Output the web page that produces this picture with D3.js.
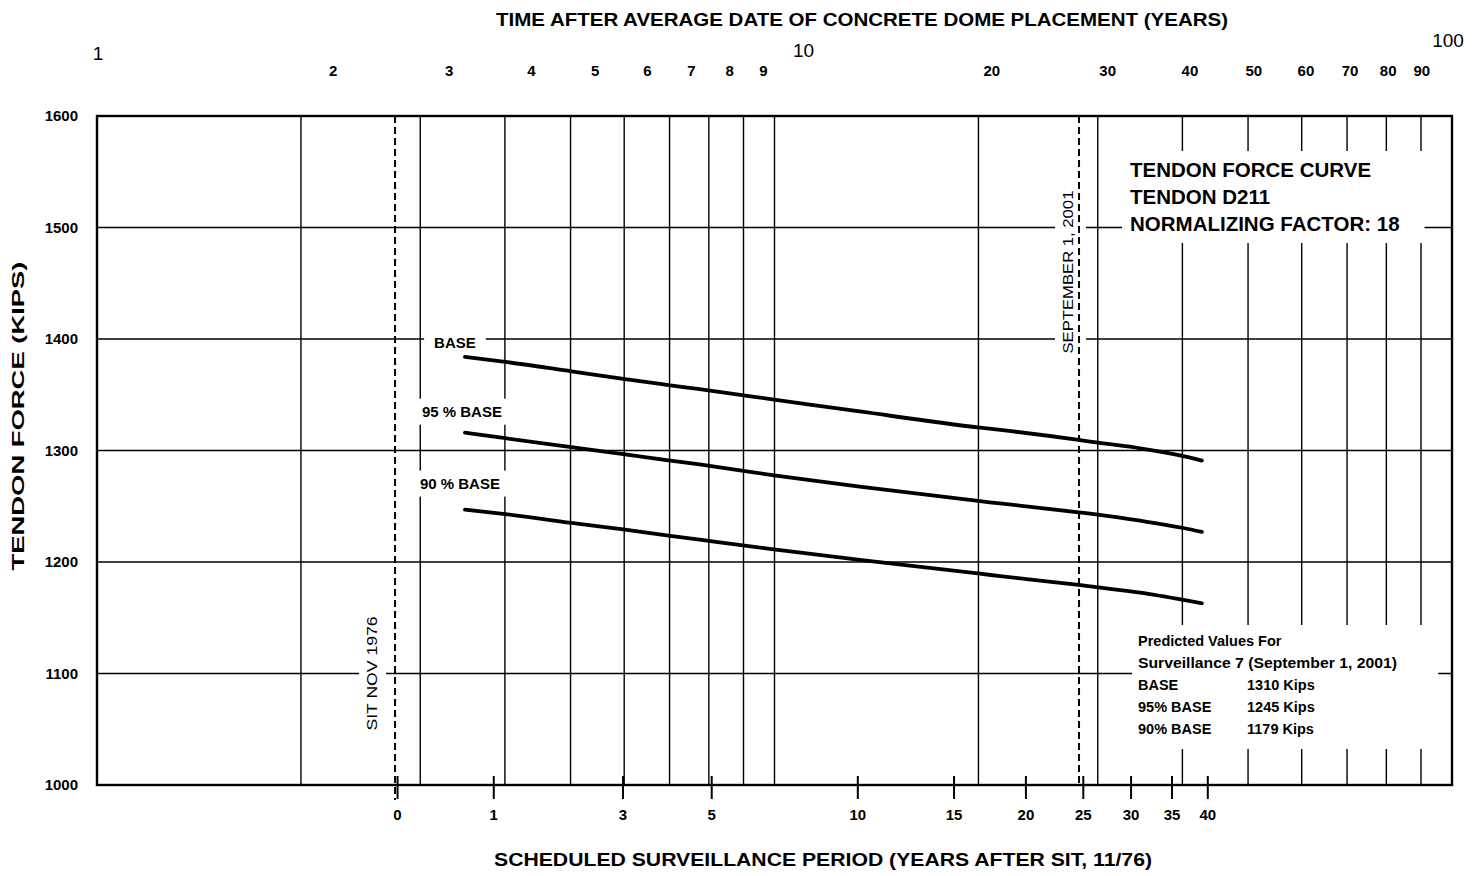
<!DOCTYPE html>
<html>
<head>
<meta charset="utf-8">
<script src="https://cdn.jsdelivr.net/npm/d3@7"></script>
<style>
  body { margin: 0; background: #fff; }
  svg { display: block; font-family: "Liberation Sans", Arial, sans-serif; }
</style>
</head>
<body>
<script>
// years after SIT (11/76) and tendon force readings (kips)
const years = [0.67, 1.15, 2.1, 3.05, 4.0, 4.7, 6.9, 10.1, 16.7, 18.1, 24.6, 26.5, 31.1, 36.6, 39.2];
const baseForce = [1384, 1379.5, 1371, 1364, 1358.5, 1355, 1345.5, 1335, 1320.5, 1318.5, 1309.5, 1307, 1302, 1295, 1291];
const base95Force = [1316, 1311, 1303, 1296.5, 1291, 1287.5, 1277.5, 1267.5, 1254.5, 1252.5, 1244.6, 1242.5, 1237, 1230.5, 1227];
const base90Force = [1247, 1243, 1235, 1229, 1223.5, 1220, 1211, 1202, 1189.5, 1187.3, 1179.4, 1177.3, 1172.5, 1166, 1163];
const seriesNames = ["BASE", "95 % BASE", "90 % BASE"];

const sitOffset = 2.5;          // dome placement -> SIT, years
const sept2001 = 24.83;         // years after SIT
const majorYears = [1, 10, 100];
const minorYears = [2, 3, 4, 5, 6, 7, 8, 9, 20, 30, 40, 50, 60, 70, 80, 90];
const gridYears = [2, 3, 4, 5, 6, 7, 8, 9, 10, 20, 30, 40, 50, 60, 70, 80, 90];
const surveillanceTicks = [0, 1, 3, 5, 10, 15, 20, 25, 30, 35, 40];
const forceTicks = [1000, 1100, 1200, 1300, 1400, 1500, 1600];
const predictedRows = [["BASE", "1310 Kips"], ["95% BASE", "1245 Kips"], ["90% BASE", "1179 Kips"]];

const W = 1476, H = 876;
const pL = 97, pR = 1452, pT = 116, pB = 785;

const svg = d3.select("body").append("svg").attr("width", W).attr("height", H);
svg.append("rect").attr("width", W).attr("height", H).attr("fill", "#fff");

// grid drawn as printed, data/labels on a slightly shifted log scale
const xGrid = d3.scaleLog().domain([1, 100]).range([pL, pR]);
const xTime = d3.scaleLog().domain([1, 100]).range([135, pR]);
const y = d3.scaleLinear().domain([1000, 1600]).range([pB, pT]);
const xs = s => xTime(s + sitOffset);

const gGrid = svg.append("g");
const gMask = svg.append("g");
const gDash = svg.append("g");
const gCurves = svg.append("g");
const gText = svg.append("g");

gGrid.selectAll(".vg").data(gridYears).join("line")
  .attr("x1", d => xGrid(d)).attr("x2", d => xGrid(d))
  .attr("y1", pT).attr("y2", pB)
  .attr("stroke", "#000").attr("stroke-width", 1.4);

gGrid.selectAll(".hg").data(forceTicks.slice(1, -1)).join("line")
  .attr("x1", pL).attr("x2", pR)
  .attr("y1", d => y(d)).attr("y2", d => y(d))
  .attr("stroke", "#000").attr("stroke-width", 1.4);

// label with a white box behind it
function boxed(transform, pad, build) {
  const g = gText.append("g").attr("transform", transform);
  build(g);
  const b = g.node().getBBox();
  gMask.append("g").attr("transform", transform).append("rect")
    .attr("x", b.x - pad[0]).attr("y", b.y - pad[1])
    .attr("width", b.width + pad[0] + pad[2]).attr("height", b.height + pad[1] + pad[3])
    .attr("fill", "#fff");
  return g;
}

// dashed event lines
gDash.selectAll("line").data([0, sept2001]).join("line")
  .attr("x1", d => xs(d) - 2).attr("x2", d => xs(d) - 2)
  .attr("y1", pT).attr("y2", d => d === 0 ? 800 : pB)
  .attr("stroke", "#000").attr("stroke-width", 2).attr("stroke-dasharray", "7,4");

// curves
const line = d3.line().x(d => xs(d[0])).y(d => y(d[1])).curve(d3.curveMonotoneX);
const seriesVals = [baseForce, base95Force, base90Force];
gCurves.selectAll("path").data(seriesVals).join("path")
  .attr("d", v => line(years.map((s, i) => [s, v[i]])))
  .attr("fill", "none").attr("stroke", "#000").attr("stroke-width", 3.8)
  .attr("stroke-linecap", "round");

// curve labels
const labelLift = [9, 16, 21];
const labelShift = [-10, -3, -5];
seriesNames.forEach((name, i) => {
  boxed(`translate(${xs(years[0]) + labelShift[i]},${y(seriesVals[i][0]) - labelLift[i]})`, [10, 4, 10, 5], g => {
    g.append("text").attr("text-anchor", "middle")
      .attr("font-size", 15).attr("font-weight", "bold").text(name);
  });
});

// rotated event labels
boxed(`translate(${xs(0) - 20},${y(1100)}) rotate(-90)`, [2, 4, 2, 6], g => {
  g.append("text").attr("text-anchor", "middle").attr("font-size", 15)
    .attr("textLength", 114).attr("lengthAdjust", "spacingAndGlyphs").text("SIT NOV 1976");
});
boxed(`translate(${xs(sept2001) - 8},${y(1460)}) rotate(-90)`, [4, 4, 4, 10], g => {
  g.append("text").attr("text-anchor", "middle").attr("font-size", 15)
    .attr("textLength", 163).attr("lengthAdjust", "spacingAndGlyphs").text("SEPTEMBER 1, 2001");
});

// title box
boxed(`translate(1130,177)`, [8, 7, 25, 8], g => {
  ["TENDON FORCE CURVE", "TENDON D211", "NORMALIZING FACTOR: 18"].forEach((t, i) => {
    g.append("text").attr("y", i * 27).attr("font-size", 20.5).attr("font-weight", "bold").text(t);
  });
});

// predicted values box
boxed(`translate(1138,646)`, [6, 8, 41, 12], g => {
  g.append("text").attr("font-size", 14.5).attr("font-weight", "bold").text("Predicted Values For");
  g.append("text").attr("y", 22).attr("font-size", 14.5).attr("font-weight", "bold")
    .attr("textLength", 259).attr("lengthAdjust", "spacingAndGlyphs")
    .text("Surveillance 7 (September 1, 2001)");
  predictedRows.forEach((r, i) => {
    g.append("text").attr("y", 44 + i * 22).attr("font-size", 14.5).attr("font-weight", "bold").text(r[0]);
    g.append("text").attr("x", 109).attr("y", 44 + i * 22).attr("font-size", 14.5).attr("font-weight", "bold").text(r[1]);
  });
});

// y axis
const yAxis = svg.append("g").attr("transform", `translate(${pL},0)`)
  .call(d3.axisLeft(y).tickValues(forceTicks).tickFormat(d3.format("d")).tickSize(0).tickPadding(19));
yAxis.select(".domain").remove();
yAxis.selectAll("text").attr("font-size", 15).attr("font-weight", "bold")
  .attr("font-family", "Liberation Sans, Arial, sans-serif").attr("fill", "#000");

// bottom axis (years after SIT)
const xAxis = svg.append("g").attr("transform", `translate(0,${pB})`)
  .call(d3.axisBottom(xTime).tickValues(surveillanceTicks.map(s => s + sitOffset))
    .tickFormat(d => Math.round(d - sitOffset)).tickSize(14).tickPadding(10));
xAxis.select(".domain").remove();
xAxis.selectAll(".tick line").attr("y1", -9).attr("stroke", "#000").attr("stroke-width", 2);
xAxis.selectAll("text").attr("font-size", 15).attr("font-weight", "bold")
  .attr("font-family", "Liberation Sans, Arial, sans-serif").attr("fill", "#000");

// top labels
const majorNudge = { 1: -37, 10: 10, 100: -4 };
const majorBase = { 1: 60, 10: 57, 100: 47 };
svg.selectAll(".major").data(majorYears).join("text")
  .attr("x", d => xTime(d) + majorNudge[d]).attr("y", d => majorBase[d])
  .attr("text-anchor", "middle").attr("font-size", 19).text(d => d);
svg.selectAll(".minor").data(minorYears).join("text")
  .attr("x", d => xTime(d)).attr("y", 76)
  .attr("text-anchor", "middle").attr("font-size", 15).attr("font-weight", "bold").text(d => d);

// axis titles
svg.append("text").attr("x", 862).attr("y", 26).attr("text-anchor", "middle")
  .attr("font-size", 19).attr("font-weight", "bold")
  .attr("textLength", 732).attr("lengthAdjust", "spacingAndGlyphs")
  .text("TIME AFTER AVERAGE DATE OF CONCRETE DOME PLACEMENT (YEARS)");
svg.append("text").attr("x", 823).attr("y", 866).attr("text-anchor", "middle")
  .attr("font-size", 19).attr("font-weight", "bold")
  .attr("textLength", 658).attr("lengthAdjust", "spacingAndGlyphs")
  .text("SCHEDULED SURVEILLANCE PERIOD (YEARS AFTER SIT, 11/76)");
svg.append("text").attr("transform", "translate(24,416) rotate(-90)").attr("text-anchor", "middle")
  .attr("font-size", 17).attr("font-weight", "bold")
  .attr("textLength", 309).attr("lengthAdjust", "spacingAndGlyphs")
  .text("TENDON FORCE (KIPS)");

// frame
svg.append("rect").attr("x", pL).attr("y", pT).attr("width", pR - pL).attr("height", pB - pT)
  .attr("fill", "none").attr("stroke", "#000").attr("stroke-width", 2.4);
</script>
</body>
</html>
